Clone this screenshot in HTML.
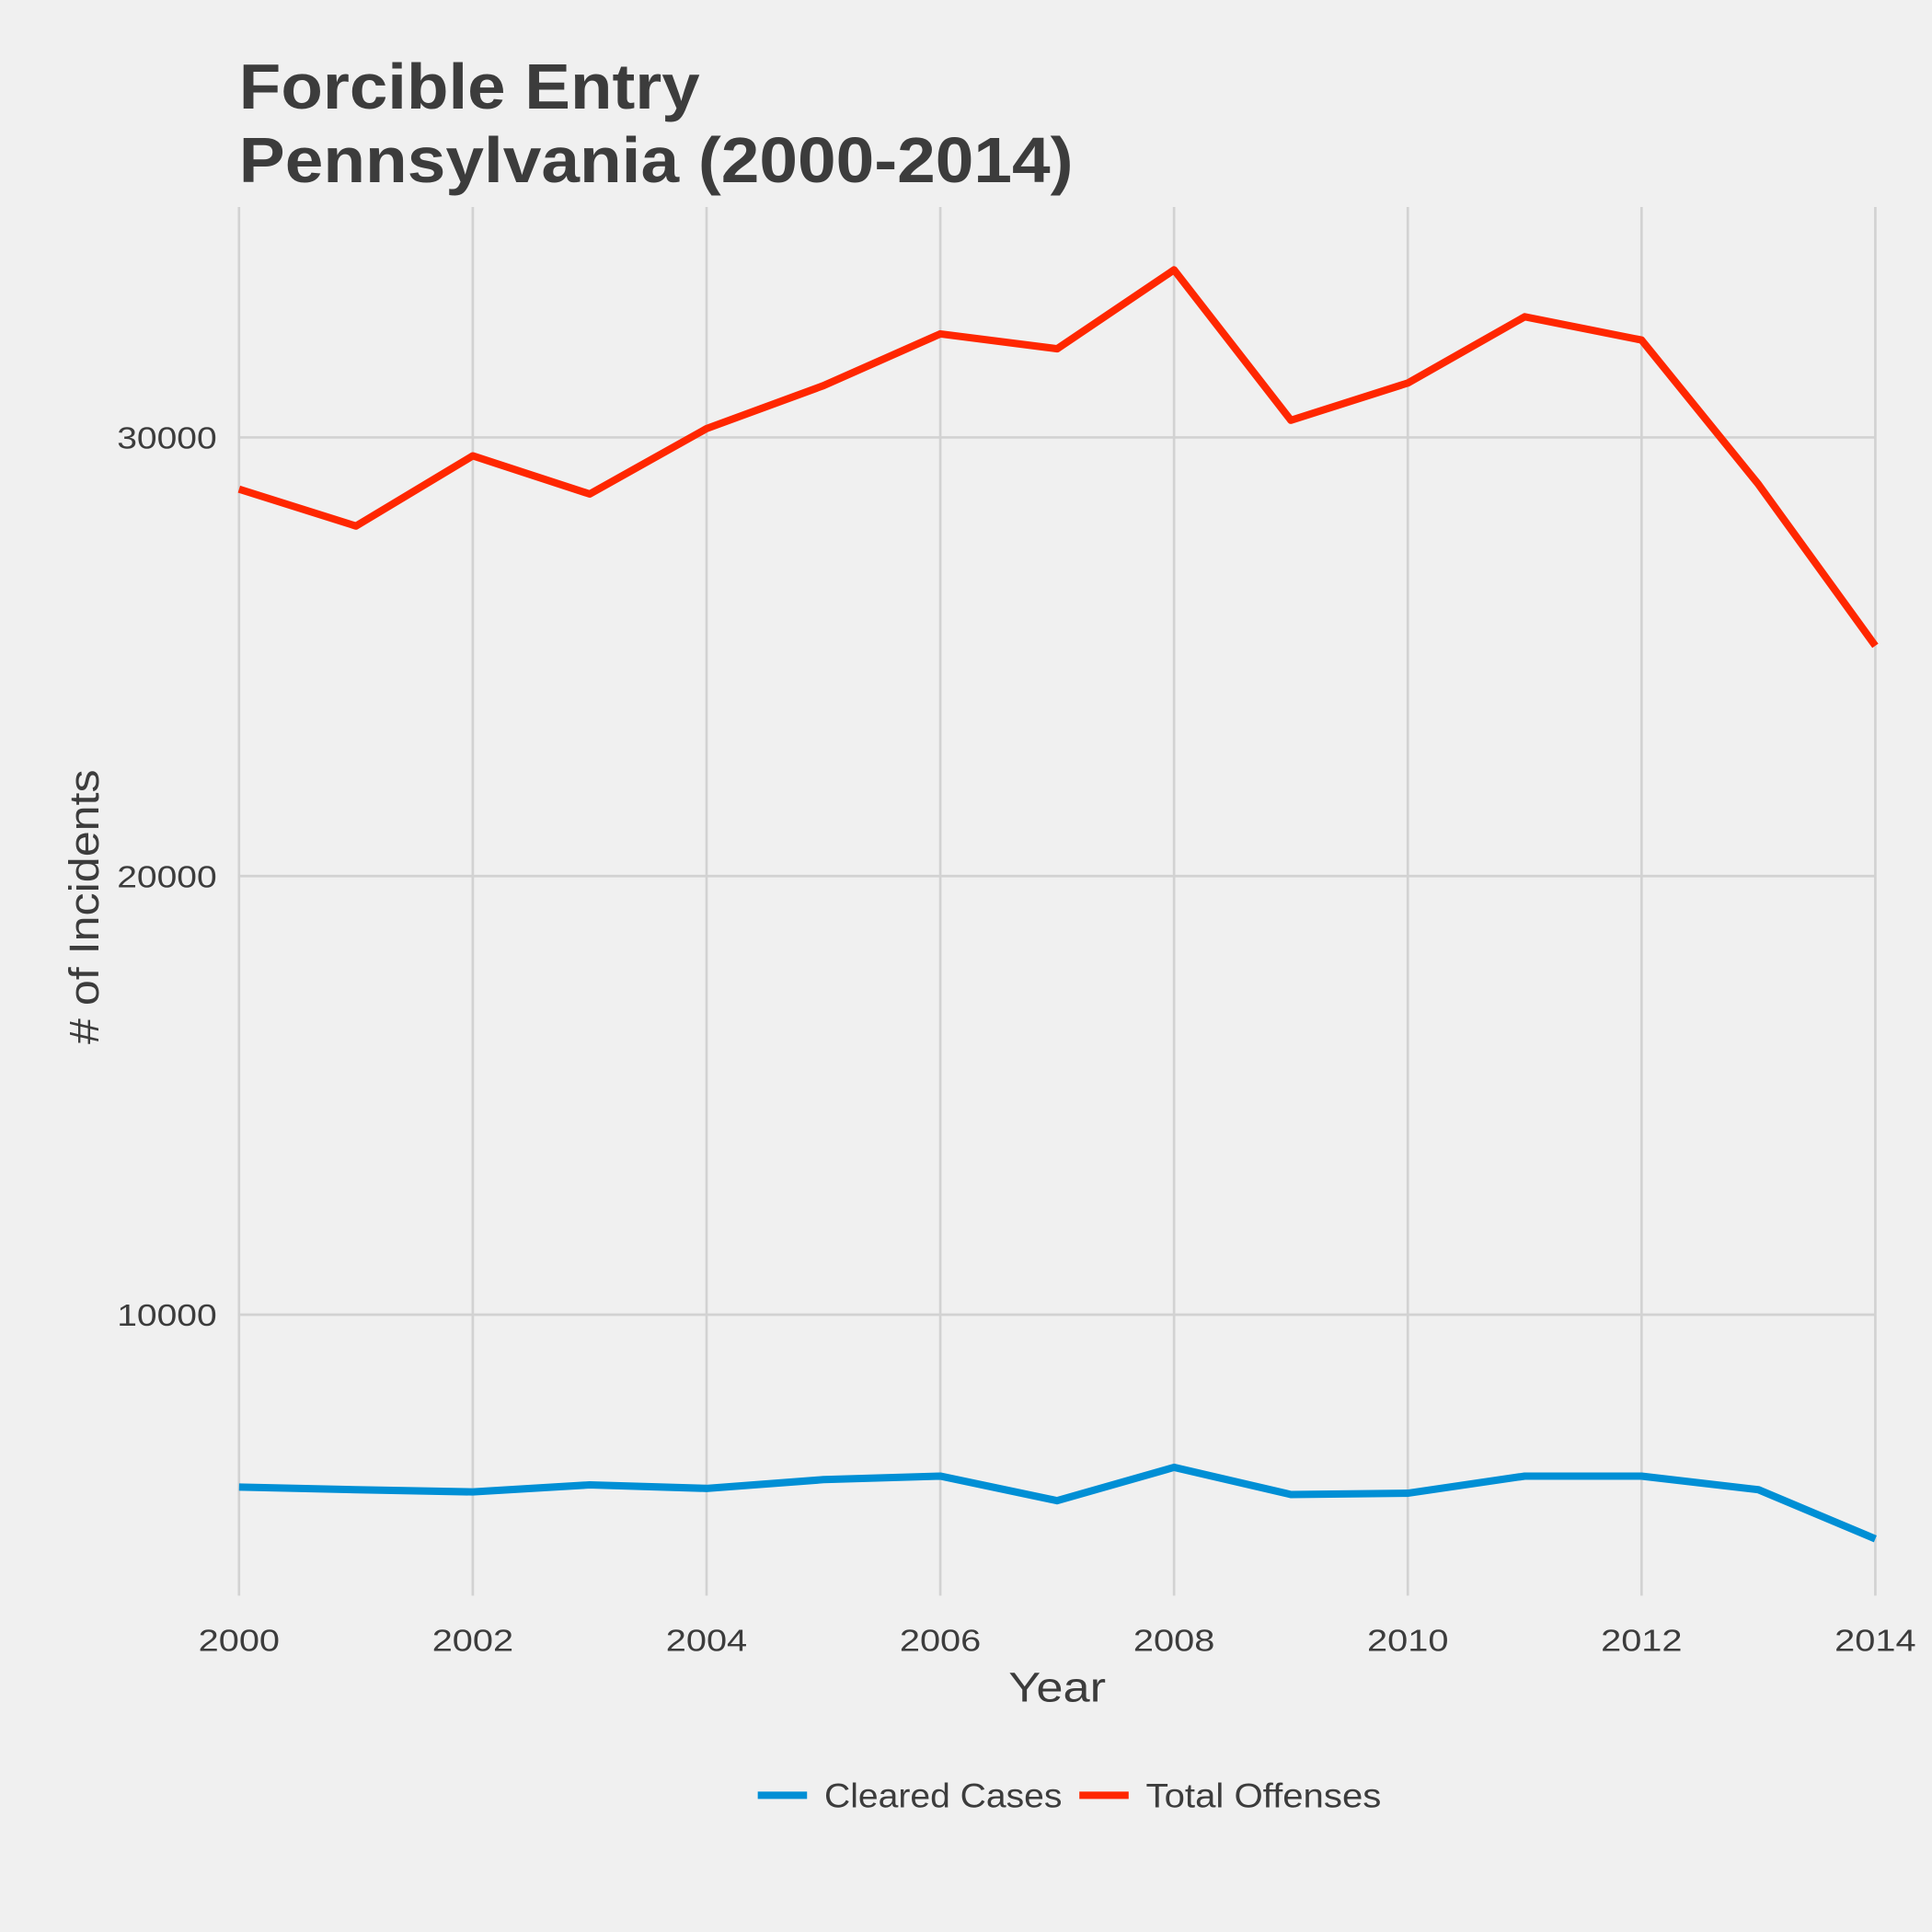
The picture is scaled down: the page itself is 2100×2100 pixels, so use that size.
<!DOCTYPE html>
<html>
<head>
<meta charset="utf-8">
<style>
  html, body { margin: 0; padding: 0; background: #f0f0f0; }
  svg { display: block; }
  text { font-family: "Liberation Sans", "DejaVu Sans", sans-serif; fill: #3c3c3c; }
</style>
</head>
<body>
<svg id="chart" width="2100" height="2100" viewBox="0 0 1568 1568" xmlns="http://www.w3.org/2000/svg">
  <rect x="0" y="0" width="1568" height="1568" fill="#f0f0f0"/>
  <text x="194" y="88" font-size="52" font-weight="bold" textLength="374" lengthAdjust="spacingAndGlyphs">Forcible Entry</text>
  <text x="194" y="148" font-size="52" font-weight="bold" textLength="677" lengthAdjust="spacingAndGlyphs">Pennsylvania (2000-2014)</text>
  <g id="grid"></g>
  <g id="series"></g>
  <g id="axes"></g>
  <text x="858" y="1381" font-size="34" text-anchor="middle" textLength="79" lengthAdjust="spacingAndGlyphs">Year</text>
  <text transform="translate(80,736) rotate(-90)" font-size="34" text-anchor="middle" textLength="223" lengthAdjust="spacingAndGlyphs"># of Incidents</text>
  <g>
    <g>
      <line x1="615" y1="1457" x2="655" y2="1457" stroke="#008fd5" stroke-width="6"/>
      <text x="669" y="1467" font-size="28" textLength="193" lengthAdjust="spacingAndGlyphs">Cleared Cases</text>
    </g>
    <g>
      <line x1="876" y1="1457" x2="916" y2="1457" stroke="#ff2700" stroke-width="6"/>
      <text x="930" y="1467" font-size="28" textLength="191" lengthAdjust="spacingAndGlyphs">Total Offenses</text>
    </g>
  </g>
</svg>
<script>
const years = [2000,2001,2002,2003,2004,2005,2006,2007,2008,2009,2010,2011,2012,2013,2014];
const totalOffenses = [28820,27980,29580,28710,30200,31180,32360,32020,33820,30390,31240,32750,32220,28930,25250];
const clearedCases = [6070,6010,5960,6120,6040,6240,6320,5760,6520,5900,5930,6320,6320,6010,4890];
const xTicks = [2000,2002,2004,2006,2008,2010,2012,2014];
const yTicks = [10000,20000,30000];

const NS = "http://www.w3.org/2000/svg";
const x = v => 194 + (v - 2000) * (1522 - 194) / 14;
const y = v => 1067 - (v - 10000) * 0.0356;
const PT = 168, PB = 1295;

function mk(tag, attrs, parent) {
  const e = document.createElementNS(NS, tag);
  for (const k in attrs) e.setAttribute(k, attrs[k]);
  parent.appendChild(e);
  return e;
}
const grid = document.getElementById('grid');
const axes = document.getElementById('axes');
const series = document.getElementById('series');

xTicks.forEach(t => {
  const l = mk('line', {x1: x(t), x2: x(t), y1: PT, y2: PB, stroke: '#d2d2d2', 'stroke-width': 2}, grid);
  
  
  const tx = mk('text', {x: x(t), y: 1340, 'font-size': 25, 'text-anchor': 'middle', textLength: 66, lengthAdjust: 'spacingAndGlyphs'}, axes);
  tx.textContent = t;
  
  
});
yTicks.forEach(t => {
  const l = mk('line', {x1: 194, x2: 1522, y1: y(t), y2: y(t), stroke: '#d2d2d2', 'stroke-width': 2}, grid);
  
  
  const tx = mk('text', {x: 176, y: y(t) + 9, 'font-size': 25, 'text-anchor': 'end', textLength: 81, lengthAdjust: 'spacingAndGlyphs'}, axes);
  tx.textContent = t;
  
  
});

function drawLine(vals, color, name) {
  const d = vals.map((v, i) => (i ? 'L' : 'M') + x(years[i]) + ',' + y(v)).join(' ');
  const p = mk('path', {d: d, fill: 'none', stroke: color, 'stroke-width': 6, 'stroke-linejoin': 'round'}, series);
  
  
}
drawLine(clearedCases, '#008fd5', 'cleared-cases-line');
drawLine(totalOffenses, '#ff2700', 'total-offenses-line');
</script>
</body>
</html>
